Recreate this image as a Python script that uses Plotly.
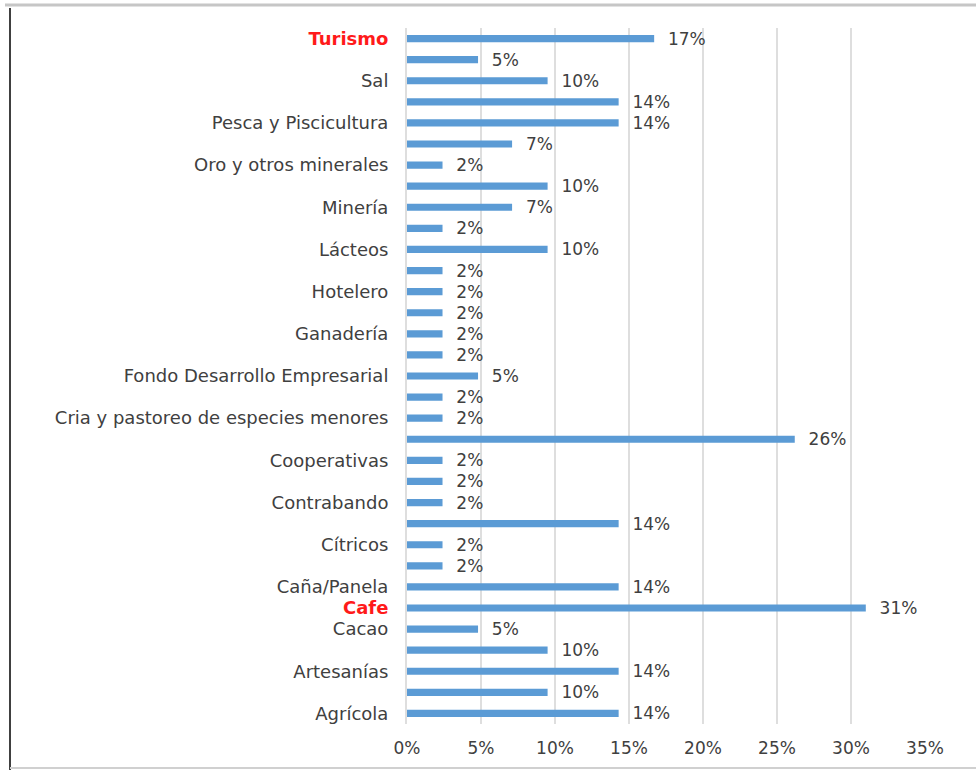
import plotly.graph_objects as go

# Bars from bottom (index 0) to top
values = [14.3, 9.5, 14.3, 9.5, 4.8, 31.0, 14.3, 2.4, 2.4, 14.3, 2.4, 2.4, 2.4,
          26.2, 2.4, 2.4, 4.8, 2.4, 2.4, 2.4, 2.4, 2.4, 9.5, 2.4, 7.1, 9.5,
          2.4, 7.1, 14.3, 14.3, 9.5, 4.8, 16.7]
positions = list(range(len(values)))

label_positions = [0, 2, 4, 5, 6, 8, 10, 12, 14, 16, 18, 20, 22, 24, 26, 28, 30, 32]
label_texts = ["Agrícola", "Artesanías", "Cacao", "Cafe", "Caña/Panela", "Cítricos",
               "Contrabando", "Cooperativas", "Cria y pastoreo de especies menores",
               "Fondo Desarrollo Empresarial", "Ganadería", "Hotelero", "Lácteos",
               "Minería", "Oro y otros minerales", "Pesca y Piscicultura", "Sal", "Turismo"]
highlighted = ["Cafe", "Turismo"]

x_tickvals = [0, 5, 10, 15, 20, 25, 30, 35]

ticktext = [
    f"<b><span style='color:#ff1a1a'>{t}</span></b>" if t in highlighted else t
    for t in label_texts
]

W, H = 976, 770
L, R, T, B = 407, 51, 28, 46
pw, ph = W - L - R, H - T - B
FONT = "DejaVu Sans"
FS = 17


def px_x(x):
    return (x - L) / pw


def px_y(y):
    return (H - B - y) / ph


fig = go.Figure(go.Bar(
    x=values,
    y=positions,
    orientation="h",
    width=0.34,
    marker=dict(color="#5b9bd5", line=dict(width=0)),
    text=["\u00a0\u00a0" + f"{round(v + 1e-9)}%" for v in values],
    textposition="outside",
    constraintext="none",
    textfont=dict(family=FONT, size=FS, color="#404040"),
    cliponaxis=False,
    hoverinfo="skip",
))

fig.update_layout(
    width=W, height=H,
    margin=dict(l=L, r=R, t=T, b=B, pad=0),
    paper_bgcolor="white",
    plot_bgcolor="white",
    showlegend=False,
    font=dict(family=FONT, size=FS, color="#404040"),
    xaxis=dict(
        range=[0, 35],
        tickvals=x_tickvals,
        ticktext=[f"{v}%" for v in x_tickvals],
        showgrid=True,
        gridcolor="#dedede",
        gridwidth=2,
        zeroline=False,
        showline=False,
        ticks="outside",
        ticklen=9,
        tickcolor="rgba(0,0,0,0)",
        tickfont=dict(family=FONT, size=FS, color="#404040"),
        fixedrange=True,
    ),
    yaxis=dict(
        range=[-0.5, 32.5],
        tickvals=label_positions,
        ticktext=ticktext,
        showgrid=False,
        zeroline=False,
        showline=True,
        linecolor="#dedede",
        linewidth=2,
        ticks="outside",
        ticklen=13,
        tickcolor="rgba(0,0,0,0)",
        tickfont=dict(family=FONT, size=18, color="#404040"),
        fixedrange=True,
    ),
    shapes=[
        dict(type="line", xref="paper", yref="paper",
             x0=px_x(5), x1=px_x(976), y0=px_y(5), y1=px_y(5),
             line=dict(color="#c6c6c6", width=3)),
        dict(type="line", xref="paper", yref="paper",
             x0=px_x(10), x1=px_x(10), y0=px_y(8), y1=px_y(770),
             line=dict(color="#404040", width=2)),
        dict(type="line", xref="paper", yref="paper",
             x0=px_x(10), x1=px_x(976), y0=px_y(768), y1=px_y(768),
             line=dict(color="#d0d0d0", width=2)),
    ],
)

fig.write_html(
    "out.html",
    config={"displayModeBar": False},
    post_script="document.body.style.margin='0';document.body.style.overflow='hidden';",
)
